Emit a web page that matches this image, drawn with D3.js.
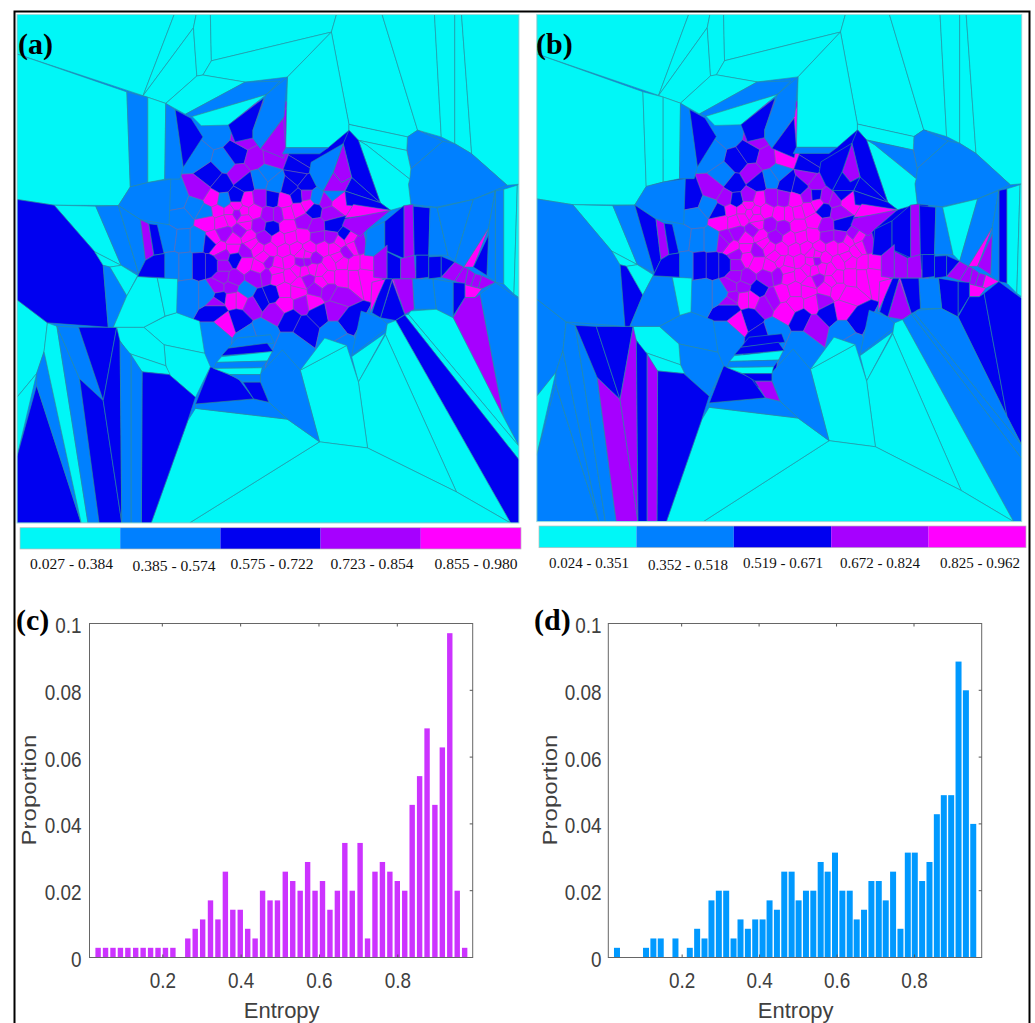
<!DOCTYPE html>
<html><head><meta charset="utf-8">
<script src="https://cdn.jsdelivr.net/npm/d3@7/dist/d3.min.js"></script>
<style>html,body{margin:0;padding:0;background:#fff;overflow:hidden}svg{display:block}</style>
</head><body><svg id="c" width="1035" height="1023"></svg>
<script>
const classColors=["#00f7f7","#0080ff","#0000f0","#a600ff","#ff00ff"];
const legendA=["0.027 - 0.384","0.385 - 0.574","0.575 - 0.722","0.723 - 0.854","0.855 - 0.980"];
const legendB=["0.024 - 0.351","0.352 - 0.518","0.519 - 0.671","0.672 - 0.824","0.825 - 0.962"];
// polygons: [class in a, class in b, x,y,x,y...] in map units
const outerCells=[
[0,0,50,43,515,43,423,283,50,160],[0,0,515,43,580,43,572,82,423,283],[0,0,572,82,582,225,490,306,423,283],
[0,0,580,43,622,43,625,180,600,222,582,225,572,82],[0,0,622,43,995,43,980,95,625,180],
[0,0,625,180,980,95,850,228,725,243,600,222],[0,0,582,225,600,222,725,243,548,338,490,306],
[0,0,995,43,1130,43,1235,385,1205,405,1032,368,980,95],[0,0,980,95,1032,368,1032,385,970,437,845,437,850,228],
[0,0,1130,43,1285,43,1305,405,1235,385],[0,0,1285,43,1345,43,1345,425,1305,405],[0,0,1345,43,1365,43,1395,455,1345,425],
[0,0,1365,43,1535,43,1535,545,1500,548,1395,455],
[1,1,1205,405,1235,385,1310,418,1215,500,1203,440],[1,1,1310,418,1345,425,1395,455,1500,548,1400,590,1290,613,1215,605,1208,545,1215,500],
[0,0,1032,368,1205,405,1203,445,1060,415,1032,385],[0,1,1060,415,1203,445,1215,500,1212,530,1085,430],
[0,0,1085,430,1212,530,1208,545,1215,605,1155,622,1125,600,1060,415],
[2,2,1032,385,1060,415,1125,600,1040,525,1015,425],[2,2,1040,525,1125,600,1020,565],[2,2,1020,565,1125,600,1155,622,1025,607],
[3,3,1015,425,1040,525,1010,540,985,510],[3,2,985,510,1010,540,1040,525,1020,565,955,565],[1,2,1015,425,985,510,955,565,935,550,915,510,920,480],
[4,4,1045,605,1155,622,1110,635,1020,645],[3,3,1020,648,1155,622,1085,680,1065,700,1012,668],
[1,2,1085,680,1138,655,1138,735,1105,758,1078,755],[2,2,1138,655,1195,608,1195,765,1138,740],[3,3,1195,608,1222,605,1225,755,1195,765],
[2,2,1222,610,1272,615,1268,755,1225,755],[1,1,1272,612,1293,615,1325,755,1268,755],[1,0,1293,615,1400,590,1345,775,1325,755],
[1,1,1400,590,1465,565,1445,675,1372,790,1345,775],[1,2,1465,565,1490,560,1490,840,1465,835],[1,1,1445,675,1465,565,1465,835,1440,815],
[4,4,1372,790,1445,675,1400,790],[2,3,1445,695,1440,815,1400,790],
[0,0,1490,560,1530,548,1520,870,1490,840],[0,0,1530,548,1535,545,1535,880,1520,870],
[3,3,1105,758,1145,725,1145,825,1105,820],[2,3,1145,745,1185,765,1185,825,1145,825],[3,3,1185,765,1225,755,1230,825,1185,825],
[2,2,1230,755,1268,755,1268,820,1230,825],[2,2,1268,760,1305,758,1305,820,1268,825],[2,2,1305,758,1345,775,1305,820],
[3,3,1305,820,1345,775,1372,790,1345,832],[3,3,1345,832,1372,790,1385,795,1375,842],[3,3,1375,842,1385,795,1405,810,1392,848],
[3,3,1392,848,1405,810,1425,815,1415,852],[3,4,1415,852,1425,815,1465,835,1425,855],[4,4,1375,842,1425,855,1405,880,1375,880],
[2,2,1340,835,1375,838,1375,880,1340,935],[1,2,1280,825,1340,835,1340,940,1290,915],[1,1,1220,825,1280,825,1290,915,1225,915],
[3,2,1163,825,1220,825,1225,915,1197,930],[2,3,1160,830,1197,930,1170,948,1125,940],[2,2,1132,825,1160,825,1125,940,1100,925],[4,4,1100,835,1140,825,1095,925],
[3,2,1340,940,1375,880,1405,880,1420,870,1490,1235],[1,2,1420,870,1465,835,1535,885,1535,1320,1490,1235],
[0,1,1215,920,1290,915,1340,940,1490,1235,1535,1320,1208,930],[0,1,1197,932,1208,930,1535,1320,1535,1360],
[2,1,1170,948,1197,932,1535,1360,1535,1547,1510,1547],[0,0,1140,990,1145,958,1170,948,1510,1547,1350,1455],
[1,1,1068,920,1125,940,1145,958,1140,975,1040,1052],[0,0,1040,1055,1140,985,1060,1130],[0,0,1060,1130,1140,990,1350,1455,1087,1325],
[0,0,888,1095,1025,1022,1060,1130,1087,1325,945,1307],[0,0,888,1095,960,1000,1025,1022],[0,0,945,1307,1087,1325,1350,1455,1510,1547,560,1547],
[0,0,578,1208,850,1240,945,1307,560,1547,447,1547,555,1245],[1,1,770,1105,835,1035,888,1095,945,1307,850,1240,795,1190,770,1130],
[1,1,578,1195,750,1180,795,1190,850,1240,578,1208],[2,2,622,1085,705,1120,750,1180,578,1195],[2,3,718,1130,770,1130,795,1190,750,1180],
[1,2,700,1000,800,990,810,1015,675,1030],[2,2,675,1030,790,1015,808,1040,655,1052],[0,0,655,1055,805,1040,790,1068,640,1072],
[1,1,640,1072,790,1068,775,1088,632,1090],[0,0,632,1090,775,1088,770,1108,680,1108],[1,2,680,1108,770,1108,770,1130,718,1130],
[0,1,425,968,490,935,522,925,590,950,605,1045,485,1020],[0,1,485,1020,605,1045,622,1085,578,1175,500,1108,490,1080],
[0,0,335,968,425,968,485,1020,490,1082,380,1045,355,1010],[0,0,355,1010,380,1045,490,1082,503,1108,420,1100],
[2,2,420,1100,500,1108,578,1175,555,1245,447,1547,418,1547],[0,1,50,887,140,955,130,1040,108,1105,50,1175],[0,0,50,1175,108,1105,50,1350],
[2,1,108,1140,240,1547,50,1547,50,1350],[1,1,108,1105,130,1040,240,1547,108,1140],[0,1,130,1040,140,955,168,965,260,1547,240,1547],
[1,1,168,965,235,1120,293,1547,260,1547],[1,2,168,965,232,968,305,1185,235,1120],[2,2,232,968,345,968,305,1185],
[2,3,235,1120,305,1185,360,1547,293,1547],[2,3,345,968,355,1010,360,1547,305,1185],[1,2,355,1010,388,1050,388,1547,360,1547],[1,3,388,1050,420,1100,418,1547,388,1547],
[0,0,50,160,375,272,385,553,350,608,160,607,50,590],[1,0,375,272,437,288,437,540,385,553],[0,0,437,288,490,306,487,530,437,540],
[1,1,490,306,518,325,542,495,532,530,487,530],[2,2,518,325,565,350,600,405,542,495],[1,1,385,553,437,540,505,530,500,665,415,650,350,608],
[0,0,160,607,283,610,358,785,280,745],[1,1,283,610,350,608,410,810,358,785],[1,2,350,608,415,650,430,770,410,810],[3,3,415,650,440,662,455,755,430,770],
[2,2,440,662,465,665,485,750,455,755],[2,1,50,590,160,607,280,745,305,785,320,968,140,955,50,887],[0,0,280,745,358,785,325,790,305,785],
[1,2,305,785,325,790,375,875,335,968,320,968],[0,0,325,790,358,785,407,815,375,875],[0,1,407,818,465,822,488,935,425,968,335,968,375,875],
[0,0,465,822,525,825,522,925,488,935],[2,2,410,810,430,770,455,755,487,750,487,822,407,818],
[1,1,548,338,725,243,828,240,787,280,568,345],[0,0,568,345,787,280,675,370,595,372],[2,2,675,370,780,290,748,385,748,408,695,420],
[1,1,787,280,850,228,840,345,770,440,748,410,748,385],[3,2,770,440,838,350,845,437,838,468],[1,1,845,437,970,437,945,455,835,455]
];
// centre cells, split by sites: [x,y,class a,class b]
const centreSites=[
[640,395,1,1],[665,480,1,2],[700,455,2,2],[725,410,3,3],[755,470,3,3],[805,465,3,4],[705,515,3,3],[725,540,2,2],[625,520,2,1],[655,545,2,2],
[590,565,3,3],[630,590,4,3],[660,595,1,2],[700,585,2,3],[585,460,1,1],[525,590,1,2],[575,610,1,1],[610,630,1,2],[535,645,1,1],[790,515,1,1],
[815,545,1,2],[770,530,1,1],[900,470,2,2],[885,495,2,2],[880,525,2,3],[905,545,2,3],[855,555,2,2],[880,582,2,3],[905,580,3,2],[935,585,1,3],
[965,595,3,3],[1000,597,4,4],[985,578,1,2],
[730,595,4,4],[770,590,3,3],[805,590,2,3],[842,595,4,4],
[645,625,4,4],[680,625,4,4],[720,625,4,4],[752,625,4,4],[795,635,3,4],[822,635,3,4],[850,630,4,4],[882,620,4,4],[910,605,4,4],[928,622,2,2],[975,630,3,3],
[615,655,4,4],[655,655,4,4],[700,632,3,4],[725,665,4,4],[765,668,3,3],[803,675,2,3],[850,670,4,4],[900,655,3,4],[935,670,3,3],[985,668,2,2],[1020,698,2,3],
[665,692,3,3],[712,682,3,3],[630,710,4,3],[690,710,4,4],[735,700,4,4],[780,702,3,3],[825,710,4,4],[860,705,4,4],[895,700,4,4],[940,702,3,3],[980,702,3,3],
[650,735,4,4],[690,735,4,4],[725,745,3,3],[760,735,4,4],[800,740,4,4],[840,740,4,4],[875,735,4,4],[915,735,4,4],[955,735,4,4],[990,735,4,4],[1025,745,3,4],[1062,725,3,3],[1030,705,4,4],
[660,755,3,3],[660,785,3,3],[695,765,2,4],[725,780,4,4],[795,775,3,4],[755,820,3,3],[820,780,4,4],[855,775,4,4],[890,775,3,4],[908,772,3,3],[930,765,3,4],[975,780,4,4],[1010,775,4,4],[1050,780,4,4],[1080,780,4,4],
[660,820,3,3],[690,825,3,3],[787,815,3,3],[820,820,4,4],[860,815,4,4],[910,828,3,3],[935,855,3,4],[970,820,4,4],[1010,820,4,4],[1050,820,4,4],[1075,815,4,4],
[645,850,3,3],[680,850,3,3],[728,862,1,2],[770,885,2,3],[805,870,2,4],[745,900,3,3],[840,860,4,4],[880,860,4,4],[970,860,3,4],[1002,878,3,4],
[650,880,2,3],[685,885,4,4],[712,885,4,4],[815,922,3,4],[840,900,4,4],[895,900,3,4],[925,895,4,3],[640,895,3,3],
[640,915,2,2],[700,945,2,2],[670,955,4,4],[860,945,2,2],[900,965,2,3],[940,925,2,2],[990,915,3,4],[1035,950,2,2],[780,985,1,1],[640,990,1,1],[990,985,1,1],[1090,980,1,1],[735,1000,1,2],[860,1020,1,1],[1010,1020,1,1],
[500,705,1,1],[540,710,1,1],[585,710,1,1],[625,715,2,3],[510,785,1,1],[548,785,1,2],[590,785,2,2],[625,785,2,2],[560,870,1,1],[615,870,1,1],[1105,715,1,2],
[877,800,4,4],[900,802,4,4],[925,795,4,4],[948,800,4,4],[892,752,4,4],[908,755,4,4],[700,610,4,4],[680,645,4,4],[722,648,4,4],[780,762,4,4],[745,722,4,4],[1000,762,4,4],[1042,732,4,4],[765,790,4,4],[815,800,4,4],[1005,715,4,4],[950,835,4,4],[885,840,4,4]
];
const binsC=[.036,.055,.074,.093,.112,.132,.151,.170,.189,.208,.227,.246,.265,.284,.303,.323,.342,.361,.380,.399,.418,.437,.456,.475,.494,.514,.533,.552,.571,.590,.609,.628,.647,.666,.685,.705,.724,.743,.762,.781,.800,.819,.838,.857,.876,.896,.915,.934,.953,.972];
const valuesC=[.0029,.0029,.0029,.0029,.0029,.0029,.0029,.0029,.0029,.0029,.0029,0,.0057,.0086,.0114,.0171,.0114,.0257,.0143,.0143,.0086,.0057,.02,.0171,.0171,.0257,.0229,.02,.0286,.02,.0229,.0143,.02,.0343,.02,.0343,.0057,.0257,.0286,.0257,.0229,.02,.0457,.0543,.0686,.0457,.0629,.0971,.02,.0029];
const binsD=[.033,.052,.071,.090,.108,.127,.146,.165,.184,.202,.221,.240,.259,.277,.296,.315,.334,.352,.371,.390,.409,.427,.446,.465,.484,.502,.521,.540,.559,.577,.596,.615,.634,.652,.671,.690,.709,.727,.746,.765,.784,.802,.821,.840,.859,.877,.896,.915,.934,.953];
const valuesD=[.0029,0,0,0,.0029,.0057,.0057,0,.0057,0,.0029,.0086,.0057,.0171,.02,.02,.0057,.0114,.0086,.0114,.0114,.0171,.0143,.0257,.0257,.0171,.02,.02,.0286,.0257,.0314,.02,.02,.0114,.0143,.0229,.0229,.0171,.0257,.0086,.0314,.0314,.0229,.0286,.0429,.0486,.0486,.0886,.08,.04];
const xTicks=[.2,.4,.6,.8], yTicks=[0,.02,.04,.06,.08,.1];

const svg=d3.select("#c");
const poly=(pts,X,Y)=>{let s="";for(let i=0;i<pts.length;i+=2)s+=(i?"L":"M")+X(pts[i]).toFixed(2)+","+Y(pts[i+1]).toFixed(2);return s+"Z";};
function drawMap(id,which,box){
  const X=d3.scaleLinear().domain([50,1535]).range([box[0],box[1]]);
  const Y=d3.scaleLinear().domain([43,1547]).range([box[2],box[3]]);
  const clip=svg.append("clipPath").attr("id","clip"+id);
  clip.append("rect").attr("x",box[0]).attr("y",box[2]).attr("width",box[1]-box[0]).attr("height",box[3]-box[2]);
  const g=svg.append("g").attr("clip-path",`url(#clip${id})`);
  g.append("rect").attr("x",box[0]).attr("y",box[2]).attr("width",box[1]-box[0]).attr("height",box[3]-box[2]).attr("fill",classColors[1]);
  const vor=d3.Delaunay.from(centreSites,d=>d[0],d=>d[1]).voronoi([400,300,1250,1150]);
  g.selectAll("path.cell").data(centreSites).join("path").attr("class","cell")
   .attr("d",(d,i)=>{const p=vor.cellPolygon(i);return p?poly(p.flat(),X,Y):"";})
   .attr("fill",d=>classColors[d[which]]).attr("stroke","#7a6a9f").attr("stroke-width",.5);
  g.selectAll("path.outer").data(outerCells).join("path").attr("class","outer")
   .attr("d",d=>poly(d.slice(2),X,Y))
   .attr("fill",d=>classColors[d[which-2]]).attr("stroke","#2f8f98").attr("stroke-width",.6);
  svg.append("rect").attr("x",box[0]).attr("y",box[2]).attr("width",box[1]-box[0]).attr("height",box[3]-box[2]).attr("fill","none").attr("stroke","#9adede").attr("stroke-width",1);
}
drawMap("a",2,[17,519,14.5,523]);
drawMap("b",3,[536.8,1021.7,14.5,521.6]);

function drawLegend(labels,bx,by,cx,cy,w){
  const L=d3.scaleLinear().domain([0,5]).range(bx);
  svg.append("g").selectAll("rect").data(labels).join("rect")
   .attr("x",(d,i)=>L(i)).attr("width",(bx[1]-bx[0])/5).attr("y",by[0]).attr("height",by[1]-by[0]).attr("fill",(d,i)=>classColors[i]);
  svg.append("rect").attr("x",bx[0]).attr("y",by[0]).attr("width",bx[1]-bx[0]).attr("height",by[1]-by[0]).attr("fill","none").attr("stroke","#bbb").attr("stroke-width",.7);
  svg.append("g").selectAll("text").data(labels).join("text").text(d=>d)
   .attr("x",(d,i)=>cx[i]).attr("y",(d,i)=>cy[i]).attr("text-anchor","middle")
   .attr("textLength",w).attr("lengthAdjust","spacingAndGlyphs")
   .attr("font-family","Liberation Serif").attr("font-size",15).attr("fill","#111");
}
drawLegend(legendA,[20,521],[527.7,549],[71.5,174,272,372,476],[569,571,569,569,569],83);
drawLegend(legendB,[539,1026],[526,547.7],[589,688,783,880,980],[568,570,567.5,567.5,567.5],80);

const narrow=function(){this.setAttribute("textLength",(this.getComputedTextLength()*.86).toFixed(1));this.setAttribute("lengthAdjust","spacingAndGlyphs");};
function drawHist(bins,values,color,barW,left,right,x0,x08,ylabR,xLab,yLab){
  const x=d3.scaleLinear().domain([0,.8]).range([x0,x08]);
  const top=623.5,bot=957.5;
  const y=d3.scaleLinear().domain([0,.1]).range([bot,top]);
  const g=svg.append("g");
  g.selectAll("rect").data(bins).join("rect")
   .attr("x",d=>x(d)-barW/2).attr("width",barW)
   .attr("y",(d,i)=>y(values[i])).attr("height",(d,i)=>bot-y(values[i]))
   .attr("fill",color);
  g.append("rect").attr("x",left).attr("y",top).attr("width",right-left).attr("height",bot-top).attr("fill","none").attr("stroke","#666").attr("stroke-width",1);
  const ax=g.append("g").attr("transform",`translate(0,${bot})`).call(d3.axisBottom(x).tickValues(xTicks).tickSizeInner(-3).tickSizeOuter(0).tickFormat(d3.format(".1f")));
  ax.select(".domain").remove();
  ax.selectAll("line").attr("stroke","#555");
  ax.selectAll("text").attr("y",30.5).attr("dy",0).attr("font-size",22).attr("font-family","Liberation Sans").attr("fill","#404040").each(narrow);
  g.selectAll("line.top").data(xTicks).join("line").attr("class","top").attr("x1",d=>x(d)).attr("x2",d=>x(d)).attr("y1",top).attr("y2",top+3).attr("stroke","#555");
  const ay=g.append("g").attr("transform",`translate(${left},0)`).call(d3.axisLeft(y).tickValues(yTicks).tickSize(0).tickPadding(left-ylabR).tickFormat(d=>d===0?"0":d3.format(".2~f")(d)));
  ay.select(".domain").remove();
  ay.selectAll("text").attr("font-size",22).attr("font-family","Liberation Sans").attr("fill","#404040").attr("transform","translate(0,2)").each(narrow);
  g.selectAll("line.right").data(yTicks.slice(1,5)).join("line").attr("class","right").attr("x1",right-3).attr("x2",right).attr("y1",d=>y(d)).attr("y2",d=>y(d)).attr("stroke","#555");
  g.append("text").text("Entropy").attr("x",xLab).attr("y",1018).attr("text-anchor","middle").attr("font-size",22).attr("font-family","Liberation Sans").attr("fill","#404040");
  g.append("text").text("Proportion").attr("transform",`translate(${yLab},790) rotate(-90)`).attr("text-anchor","middle").attr("font-size",20).attr("textLength",111).attr("lengthAdjust","spacingAndGlyphs").attr("font-family","Liberation Sans").attr("fill","#404040");
}
drawHist(binsC,valuesC,"#cc33ff",5.4,89.5,472.7,84,397.3,81.5,281.7,36);
drawHist(binsD,valuesD,"#0099ff",6,608.3,981.7,604.2,914,601.5,795.7,557);

[["(a)",18,54],["(b)",536,54],["(c)",16,630],["(d)",534,630]].forEach(d=>{
  svg.append("text").text(d[0]).attr("x",d[1]).attr("y",d[2]).attr("font-family","Liberation Serif").attr("font-weight","bold").attr("font-size",30).attr("fill","#000");
});
svg.append("path").attr("d","M14.5,1023V11.5H1029.5V1023").attr("fill","none").attr("stroke","#000").attr("stroke-width",2);
</script></body></html>
